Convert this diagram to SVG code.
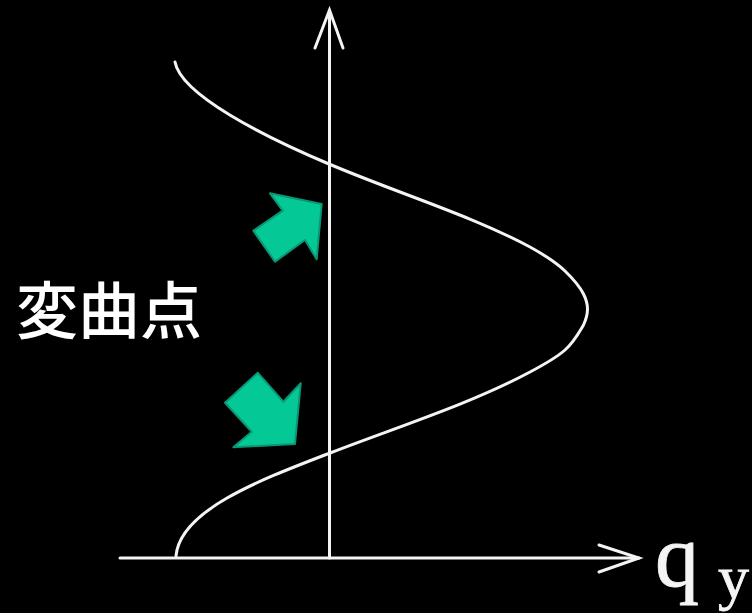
<svg xmlns="http://www.w3.org/2000/svg" width="752" height="613" viewBox="0 0 752 613">
<style>
.ln{fill:none;stroke:#f4f4f4;stroke-width:3;stroke-linecap:round;stroke-linejoin:round}
.ah{fill:none;stroke:#f4f4f4;stroke-width:3;stroke-linecap:round;stroke-linejoin:miter}
.grn{fill:#04C996;stroke:#0A9674;stroke-width:2;stroke-linejoin:round}
.lbl{fill:#ffffff;font-family:"Noto Sans CJK JP","Noto Sans CJK SC",sans-serif;font-size:62px;font-weight:500}
.ax{fill:#f4f4f4;stroke:#f4f4f4;stroke-width:0.8;font-family:"Liberation Serif","DejaVu Serif",serif}
</style>
<rect x="0" y="0" width="752" height="613" fill="#000000"/>
<g id="connectors">
<g id="y-axis">
<line class="ln" x1="329.5" y1="558" x2="329.5" y2="11"/>
<polyline class="ah" points="315,48 329.5,10 343,48"/>
</g>
<g id="x-axis">
<line class="ln" x1="120" y1="558" x2="639" y2="558"/>
<polyline class="ah" points="599,545 639,558 599,572"/>
</g>
</g>
<g id="curve">
<path class="ln" d="M175,62 C181,95 265,137 329,164 C400,194 470,215 530,247 C546.7,256.2 556,262.3 565,271 C574,279.7 580,287 583.5,294 C587,301 587.5,304 587.5,309 C587.5,314 586.7,318 583.5,325 C579.3,332 573.8,342.2 565,350 C556.2,357.8 546,363.5 530,372 C470,404 400,426 330,453 C260,480 180,510 176,556"/>
</g>
<g id="arrow-upper">
<polygon class="grn" points="270,193.3 321.7,204 316.7,259.3 305,240 275,261.7 253.3,230.7 282.7,210.7"/>
</g>
<g id="arrow-lower">
<polygon class="grn" points="225,402.7 257.7,372.7 283.3,401.7 300.7,383.3 295,444 233.3,447.3 251.7,431.7"/>
</g>
<g id="label-inflection">
<text class="lbl" x="16" y="334">変曲点</text>
</g>
<g id="label-qy">
<text class="ax" x="655" y="586" font-size="88">q</text>
<text class="ax" x="718" y="598" font-size="62">y</text>
</g>
</svg>
